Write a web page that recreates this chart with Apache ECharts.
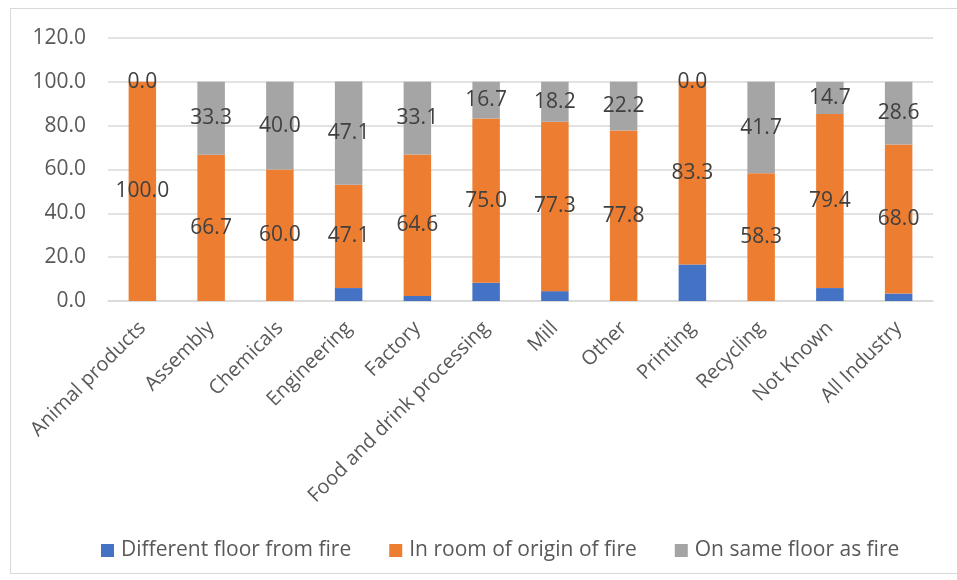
<!DOCTYPE html>
<html>
<head>
<meta charset="utf-8">
<script src="https://cdn.jsdelivr.net/npm/echarts@6/dist/echarts.min.js"></script>
<style>
  html, body { margin: 0; padding: 0; background: #fff; }
  #frame { position: absolute; left: 10px; top: 8px; width: 960px; height: 566px; border: 1px solid #d9d9d9; box-sizing: border-box; }
  #chartDiv { position: absolute; left: 0; top: 0; width: 957px; height: 580px; }
</style>
</head>
<body>
<div id="frame"></div>
<div id="chartDiv"></div>
<script>
// 初始化图表
let myChart = echarts.init(document.getElementById('chartDiv'));
window.onresize = myChart.resize;

// 数据
const categories = ['Animal products', 'Assembly', 'Chemicals', 'Engineering', 'Factory',
    'Food and drink processing', 'Mill', 'Other', 'Printing', 'Recycling', 'Not Known', 'All Industry'];
const differentFloor = [0, 0, 0, 5.9, 2.3, 8.3, 4.5, 0, 16.7, 0, 5.9, 3.4];
const roomOfOrigin = [100.0, 66.7, 60.0, 47.1, 64.6, 75.0, 77.3, 77.8, 83.3, 58.3, 79.4, 68.0];
const sameFloor = [0.0, 33.3, 40.0, 47.1, 33.1, 16.7, 18.2, 22.2, 0.0, 41.7, 14.7, 28.6];
const yTicks = [0, 20, 40, 60, 80, 100, 120];

const fontFamily = '"Open Sans", "Liberation Sans", sans-serif';

let labelOpt = {
    show: true,
    position: 'inside',
    color: '#404040',
    fontSize: 21,
    fontFamily: fontFamily,
    formatter: p => p.value.toFixed(1)
};

let option = {
    backgroundColor: 'transparent',
    animation: false,
    grid: { left: 108, right: 24, top: 38, bottom: 279 },
    legend: {
        top: 535,
        left: 96,
        itemWidth: 13,
        itemHeight: 13,
        itemGap: 38,
        icon: 'rect',
        textStyle: { color: '#595959', fontSize: 21, fontFamily: fontFamily, padding: [0, 0, 0, 2] },
        data: ['Different floor from fire', 'In room of origin of fire', 'On same floor as fire']
    },
    xAxis: {
        type: 'category',
        data: categories,
        axisLine: { lineStyle: { color: '#d9d9d9', width: 1.5 } },
        axisTick: { show: false },
        axisLabel: {
            interval: 0,
            rotate: 45,
            margin: 24,
            color: '#595959',
            fontSize: 20,
            fontFamily: fontFamily
        }
    },
    yAxis: {
        type: 'value',
        min: yTicks[0],
        max: yTicks[yTicks.length - 1],
        interval: 20,
        axisLine: { show: false },
        axisTick: { show: false },
        splitLine: { lineStyle: { color: '#d9d9d9', width: 1.5 } },
        axisLabel: {
            margin: 22,
            color: '#595959',
            fontSize: 21,
            fontFamily: fontFamily,
            formatter: v => v.toFixed(1)
        }
    },
    series: [
        {
            name: 'Different floor from fire',
            type: 'bar',
            stack: 'total',
            barWidth: '40%',
            itemStyle: { color: '#4472C4' },
            data: differentFloor
        },
        {
            name: 'In room of origin of fire',
            type: 'bar',
            stack: 'total',
            itemStyle: { color: '#ED7D31' },
            label: labelOpt,
            data: roomOfOrigin
        },
        {
            name: 'On same floor as fire',
            type: 'bar',
            stack: 'total',
            itemStyle: { color: '#A5A5A5' },
            label: labelOpt,
            data: sameFloor
        }
    ]
};
myChart.setOption(option);
</script>
</body>
</html>
